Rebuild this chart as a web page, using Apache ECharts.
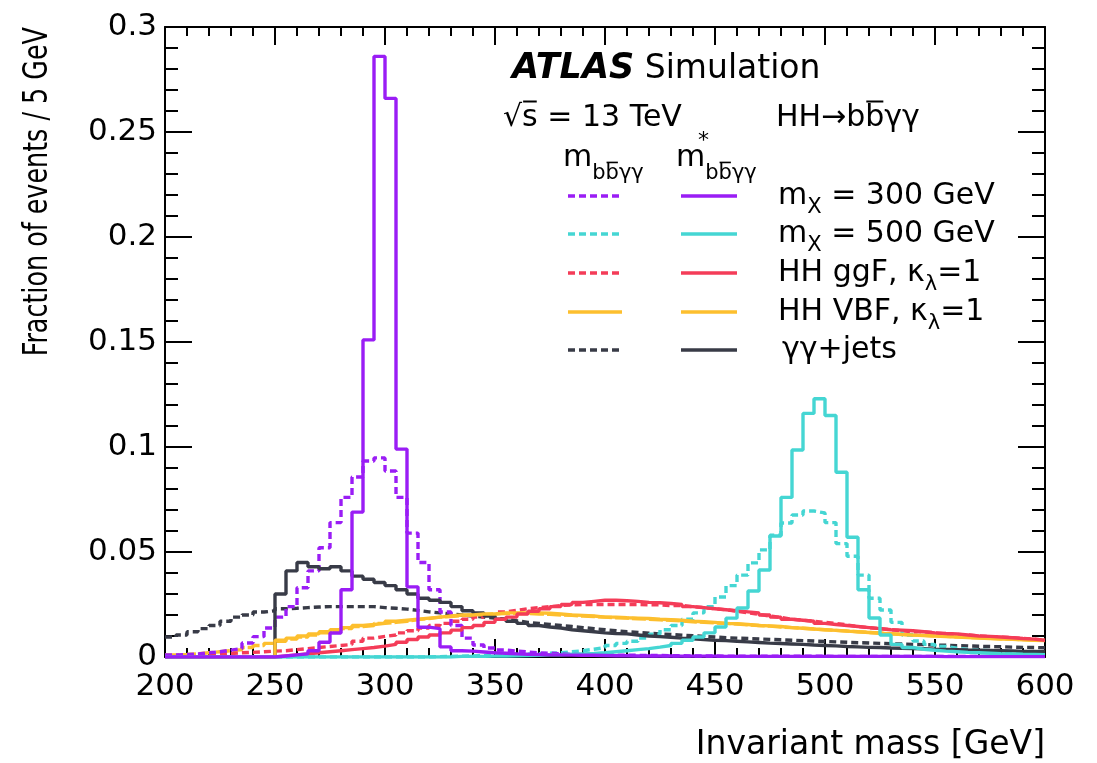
<!DOCTYPE html>
<html>
<head>
<meta charset="utf-8">
<script src="https://cdn.jsdelivr.net/npm/echarts/dist/echarts.min.js"></script>
<style>
html, body { margin: 0; padding: 0; background: #fff; }
#chart { width: 1097px; height: 763px; }
</style>
</head>
<body>
<div id="chart"></div>
<script>
// 5 GeV bins from 200 to 600 GeV, one value per bin (lower edge 200, 205, ... 595)
const binLow = 200
const binWidth = 5

// m_X = 300 GeV
const x300 = [
  0.001, 0.0012, 0.0015, 0.002, 0.0025, 0.0033, 0.004, 0.0067, 0.0097, 0.0138,
  0.019, 0.024, 0.033, 0.041, 0.052, 0.064, 0.076, 0.0857, 0.0933, 0.0948,
  0.0886, 0.076, 0.059, 0.045, 0.032, 0.0214, 0.015, 0.009, 0.0057, 0.0043,
  0.0033, 0.0028, 0.0024, 0.002, 0.0018, 0.0015, 0.0013, 0.0012, 0.001, 0.001,
  0.0009, 0.0008, 0.0008, 0.0007, 0.0007, 0.0006, 0.0006, 0.0005, 0.0005, 0.0005,
  0.0004, 0.0004, 0.0004, 0.0004, 0.0004, 0.0004, 0.0004, 0.0004, 0.0004, 0.0004,
  0.0003, 0.0003, 0.0003, 0.0003, 0.0003, 0.0003, 0.0003, 0.0003, 0.0003, 0.0003,
  0.0003, 0.0003, 0.0003, 0.0003, 0.0003, 0.0003, 0.0003, 0.0003, 0.0003, 0.0003
]
const x300Star = [
  0, 0, 0, 0, 0, 0, 0, 0, 0, 0,
  0.0005, 0.001, 0.0015, 0.003, 0.007, 0.0114, 0.032, 0.069, 0.151, 0.286,
  0.266, 0.099, 0.0334, 0.0142, 0.0135, 0.0048, 0.003, 0.0028, 0.0024, 0.002,
  0.0018, 0.0015, 0.0013, 0.0012, 0.001, 0.001, 0.0009, 0.0008, 0.0008, 0.0007,
  0.0006, 0.0006, 0.0005, 0.0005, 0.0005, 0.0005, 0.0004, 0.0004, 0.0004, 0.0004,
  0.0003, 0.0003, 0.0003, 0.0003, 0.0003, 0.0003, 0.0003, 0.0003, 0.0003, 0.0003,
  0.0003, 0.0003, 0.0003, 0.0003, 0.0003, 0.0003, 0.0003, 0.0003, 0.0003, 0.0003,
  0.0002, 0.0002, 0.0002, 0.0002, 0.0002, 0.0002, 0.0002, 0.0002, 0.0002, 0.0002
]

// m_X = 500 GeV
const x500 = [
  0, 0, 0, 0, 0, 0, 0, 0, 0, 0,
  0, 0, 0, 0, 0, 0, 0, 0, 0, 0,
  0, 0, 0, 0, 0.0002, 0.0003, 0.0004, 0.0005, 0.0006, 0.0008,
  0.001, 0.0012, 0.0014, 0.0016, 0.0018, 0.002, 0.0025, 0.003, 0.0037, 0.0045,
  0.0055, 0.0065, 0.0075, 0.009, 0.0108, 0.013, 0.015, 0.018, 0.021, 0.024,
  0.0286, 0.034, 0.039, 0.0448, 0.051, 0.058, 0.0638, 0.0676, 0.0695, 0.0686,
  0.064, 0.054, 0.048, 0.039, 0.028, 0.0224, 0.0165, 0.0105, 0.0076, 0.006,
  0.005, 0.0042, 0.0036, 0.0033, 0.003, 0.0027, 0.0025, 0.0023, 0.0021, 0.002
]
const x500Star = [
  0, 0, 0, 0, 0, 0, 0, 0, 0, 0,
  0, 0, 0, 0, 0, 0, 0, 0, 0, 0,
  0, 0, 0, 0, 0, 0, 0.0003, 0.0003, 0.0003, 0.0004,
  0.0005, 0.0006, 0.0007, 0.0008, 0.001, 0.0011, 0.0013, 0.0015, 0.0017, 0.002,
  0.0025, 0.003, 0.0035, 0.004, 0.0047, 0.0055, 0.0065, 0.008, 0.0095, 0.0115,
  0.0143, 0.0185, 0.0233, 0.0314, 0.0414, 0.0576, 0.076, 0.0986, 0.116, 0.123,
  0.115, 0.088, 0.057, 0.032, 0.0186, 0.0105, 0.006, 0.0045, 0.0037, 0.0032,
  0.0028, 0.0025, 0.0022, 0.002, 0.0018, 0.0016, 0.0015, 0.0013, 0.0012, 0.0011
]

// HH ggF, kappa_lambda = 1
const ggf = [
  0.0005, 0.0007, 0.001, 0.0012, 0.0015, 0.0017, 0.002, 0.0022, 0.0025, 0.0028,
  0.003, 0.0035, 0.004, 0.0045, 0.005, 0.0055, 0.006, 0.0075, 0.009, 0.0098,
  0.0105, 0.0115, 0.0125, 0.0138, 0.015, 0.016, 0.017, 0.018, 0.019, 0.02,
  0.0215, 0.0222, 0.023, 0.0235, 0.024, 0.0245, 0.0248, 0.025, 0.025, 0.025,
  0.025, 0.025, 0.025, 0.0248, 0.0248, 0.0245, 0.0245, 0.024, 0.0235, 0.023,
  0.0225, 0.0218, 0.021, 0.0203, 0.0195, 0.0188, 0.018, 0.0175, 0.017, 0.0165,
  0.016, 0.0153, 0.0145, 0.014, 0.0135, 0.013, 0.0125, 0.012, 0.012, 0.0115,
  0.011, 0.0107, 0.0105, 0.01, 0.0097, 0.0095, 0.0092, 0.0088, 0.0085, 0.008
]
const ggfStar = [
  0, 0, 0, 0, 0, 0, 0, 0, 0, 0,
  0.0005, 0.001, 0.0015, 0.002, 0.0025, 0.003, 0.0035, 0.004, 0.0045, 0.0052,
  0.006, 0.007, 0.0083, 0.0095, 0.0105, 0.0115, 0.0128, 0.014, 0.015, 0.0165,
  0.018, 0.019, 0.0205, 0.0218, 0.023, 0.024, 0.025, 0.026, 0.0265, 0.027,
  0.027, 0.0268, 0.0265, 0.026, 0.0258, 0.0255, 0.025, 0.024, 0.0235, 0.023,
  0.0225, 0.022, 0.0215, 0.021, 0.02, 0.019, 0.018, 0.0175, 0.017, 0.016,
  0.0155, 0.015, 0.0145, 0.014, 0.0135, 0.013, 0.0128, 0.0125, 0.012, 0.0115,
  0.0112, 0.011, 0.0105, 0.01, 0.0098, 0.0095, 0.0092, 0.0088, 0.0085, 0.008
]

// HH VBF, kappa_lambda = 1
const vbf = [
  0.001, 0.0012, 0.0015, 0.002, 0.0025, 0.003, 0.0035, 0.0045, 0.0055, 0.0065,
  0.0075, 0.0085, 0.0095, 0.0105, 0.0115, 0.0125, 0.0135, 0.0145, 0.015, 0.016,
  0.0165, 0.017, 0.0178, 0.0183, 0.019, 0.0193, 0.0197, 0.02, 0.0202, 0.0205,
  0.0207, 0.0207, 0.0207, 0.0205, 0.0203, 0.02, 0.0198, 0.0195, 0.0193, 0.019,
  0.0187, 0.0185, 0.0182, 0.018, 0.0177, 0.0175, 0.0172, 0.0168, 0.0165, 0.0162,
  0.016, 0.0157, 0.0153, 0.015, 0.0147, 0.0143, 0.014, 0.0137, 0.0133, 0.013,
  0.0127, 0.0124, 0.012, 0.0117, 0.0114, 0.0111, 0.0108, 0.0105, 0.0103, 0.01,
  0.0098, 0.0096, 0.0094, 0.0091, 0.0089, 0.0087, 0.0085, 0.0083, 0.0081, 0.0079
]
const vbfStar = [
  0, 0, 0, 0, 0, 0, 0, 0, 0, 0,
  0.008, 0.009, 0.01, 0.011, 0.012, 0.013, 0.014, 0.015, 0.0155, 0.016,
  0.017, 0.0175, 0.018, 0.0185, 0.019, 0.0195, 0.02, 0.02, 0.0205, 0.0205,
  0.021, 0.021, 0.021, 0.021, 0.0208, 0.0205, 0.02, 0.0198, 0.0195, 0.019,
  0.019, 0.0187, 0.0185, 0.0183, 0.018, 0.0178, 0.0175, 0.017, 0.0168, 0.0165,
  0.016, 0.0158, 0.0155, 0.015, 0.0148, 0.0145, 0.014, 0.0137, 0.0133, 0.013,
  0.0127, 0.0123, 0.012, 0.0117, 0.0113, 0.011, 0.0107, 0.0104, 0.0102, 0.01,
  0.0097, 0.0095, 0.0093, 0.009, 0.0088, 0.0086, 0.0084, 0.0082, 0.008, 0.0078
]

// gamma gamma + jets
const jets = [
  0.0095, 0.0105, 0.012, 0.0135, 0.015, 0.017, 0.019, 0.02, 0.0214, 0.022,
  0.023, 0.0232, 0.0235, 0.0238, 0.024, 0.024, 0.024, 0.024, 0.024, 0.0235,
  0.0232, 0.0228, 0.0222, 0.0215, 0.021, 0.0205, 0.02, 0.0195, 0.019, 0.0185,
  0.018, 0.0172, 0.0165, 0.016, 0.0155, 0.015, 0.0145, 0.014, 0.0135, 0.013,
  0.0125, 0.012, 0.0117, 0.0113, 0.011, 0.0107, 0.0104, 0.0101, 0.0098, 0.0095,
  0.0092, 0.009, 0.0088, 0.0086, 0.0084, 0.0082, 0.008, 0.0078, 0.0076, 0.0074,
  0.0072, 0.007, 0.0068, 0.0067, 0.0065, 0.0063, 0.0062, 0.006, 0.0059, 0.0057,
  0.0056, 0.0054, 0.0053, 0.0051, 0.005, 0.0049, 0.0047, 0.0046, 0.0045, 0.0044
]
const jetsStar = [
  0, 0, 0, 0, 0, 0, 0, 0, 0, 0,
  0.03, 0.041, 0.045, 0.043, 0.042, 0.043, 0.041, 0.0385, 0.037, 0.0355,
  0.034, 0.032, 0.03, 0.028, 0.027, 0.026, 0.024, 0.022, 0.021, 0.0195,
  0.018, 0.017, 0.016, 0.015, 0.0143, 0.0138, 0.013, 0.0125, 0.012, 0.0115,
  0.0112, 0.011, 0.0105, 0.01, 0.0097, 0.0094, 0.009, 0.0087, 0.0083, 0.008,
  0.0078, 0.0075, 0.0072, 0.0069, 0.0066, 0.0064, 0.0062, 0.006, 0.0057, 0.0055,
  0.0053, 0.005, 0.0048, 0.0046, 0.0045, 0.0043, 0.0042, 0.004, 0.0039, 0.0037,
  0.0036, 0.0035, 0.0033, 0.0032, 0.0031, 0.003, 0.0029, 0.0027, 0.0026, 0.0025
]

const xTicks = { min: 200, max: 600, step: 50 }
const yTicks = { min: 0, max: 0.3, step: 0.05 }

const FONT = '"DejaVu Sans"'
const LW = 3.4

const samples = [
  { color: '#9a1df5', reco: x300, star: x300Star, dash: [7, 4], keyDash: [7, 4] },
  { color: '#45d6d3', reco: x500, star: x500Star, dash: [7, 4], keyDash: [7, 4] },
  { color: '#f43c58', reco: ggf, star: ggfStar, dash: [7, 4], keyDash: [7, 4] },
  { color: '#fdbf2e', reco: vbf, star: vbfStar, dash: [14, 3], keyDash: null },
  { color: '#383b47', reco: jets, star: jetsStar, dash: [7, 4], keyDash: [7, 4] }
]

// histogram as step line: lower edges + closing upper edge
function hist(values) {
  let pts = values.map((v, i) => [binLow + i * binWidth, v])
  pts.push([binLow + values.length * binWidth, values[values.length - 1]])
  return pts
}

let series = []
samples.slice().reverse().forEach(s => {
  series.push({
    type: 'line', step: 'end', symbol: 'none', silent: true, z: 2,
    data: hist(s.reco),
    lineStyle: { color: s.color, width: LW, type: s.dash }
  })
})
samples.slice().reverse().forEach(s => {
  series.push({
    type: 'line', step: 'end', symbol: 'none', silent: true, z: 3,
    data: hist(s.star),
    lineStyle: { color: s.color, width: LW, type: 'solid' }
  })
})

// ---- text helpers for the legend block ----
const ctx = document.createElement('canvas').getContext('2d')
function fontStr(p) {
  return (p.italic ? 'italic ' : '') + (p.bold ? 'bold ' : '') + p.size + 'px ' + FONT
}
function textRun(x, y, parts) {
  let els = []
  let cx = x
  parts.forEach(p => {
    const f = fontStr(p)
    ctx.font = f
    const w = ctx.measureText(p.t).width
    const py = y + (p.dy || 0)
    els.push({
      type: 'text', x: cx, y: py, silent: true,
      style: { text: p.t, font: f, fill: '#000', textAlign: 'left', textVerticalAlign: 'middle' }
    })
    if (p.bar) {
      const by = py - 0.55 * p.size
      els.push({
        type: 'line', silent: true,
        shape: { x1: cx + 1, y1: by, x2: cx + w - 1, y2: by },
        style: { stroke: '#000', lineWidth: p.size > 25 ? 2 : 1.6 }
      })
    }
    cx += w
  })
  return els
}

let graphics = []
graphics = graphics.concat(textRun(512, 69, [
  { t: 'ATLAS', size: 35, bold: true, italic: true },
  { t: ' Simulation', size: 33 }
]))
graphics = graphics.concat(textRun(503, 118, [
  { t: '\u221a', size: 30 }, { t: 's', size: 30, bar: true }, { t: ' = 13 TeV', size: 30 }
]))
graphics = graphics.concat(textRun(776, 118, [
  { t: 'HH\u2192b', size: 30 }, { t: 'b', size: 30, bar: true }, { t: '\u03b3\u03b3', size: 30 }
]))
// column headers
const sub = [{ t: 'b', size: 21, dy: 16 }, { t: 'b', size: 21, dy: 16, bar: true }, { t: '\u03b3\u03b3', size: 21, dy: 16 }]
graphics = graphics.concat(textRun(563, 158, [{ t: 'm', size: 30 }].concat(sub)))
graphics = graphics.concat(textRun(676, 158, [{ t: 'm', size: 30 }].concat(sub)))
graphics = graphics.concat(textRun(698, 141, [{ t: '*', size: 22 }]))

const rowY = [196, 234, 273, 312, 350]
const rowText = [
  [{ t: 'm', size: 30 }, { t: 'X', size: 21, dy: 12 }, { t: ' = 300 GeV', size: 30 }],
  [{ t: 'm', size: 30 }, { t: 'X', size: 21, dy: 12 }, { t: ' = 500 GeV', size: 30 }],
  [{ t: 'HH ggF, \u03ba', size: 30 }, { t: '\u03bb', size: 21, dy: 12 }, { t: '=1', size: 30 }],
  [{ t: 'HH VBF, \u03ba', size: 30 }, { t: '\u03bb', size: 21, dy: 12 }, { t: '=1', size: 30 }],
  [{ t: '\u03b3\u03b3+jets', size: 30 }]
]
samples.forEach((s, i) => {
  const y = rowY[i]
  graphics.push({
    type: 'line', silent: true, shape: { x1: 568, y1: y, x2: 622, y2: y },
    style: { stroke: s.color, lineWidth: LW, lineDash: s.keyDash }
  })
  graphics.push({
    type: 'line', silent: true, shape: { x1: 681, y1: y, x2: 737, y2: y },
    style: { stroke: s.color, lineWidth: LW }
  })
  graphics = graphics.concat(textRun(i === 4 ? 782 : 778, y, rowText[i]))
})

// axis titles
graphics.push({
  type: 'text', x: 1045, y: 745, silent: true,
  style: { text: 'Invariant mass [GeV]', font: '33px ' + FONT, fill: '#000', textAlign: 'right', textVerticalAlign: 'middle' }
})
graphics.push({
  type: 'text', x: 38, y: 27, rotation: Math.PI / 2, scaleX: 0.77, silent: true,
  style: { text: 'Fraction of events / 5 GeV', font: '33px ' + FONT, fill: '#000', textAlign: 'right', textVerticalAlign: 'middle' }
})

function xAxisDef(pos, labels) {
  return {
    type: 'value', position: pos, min: xTicks.min, max: xTicks.max, interval: xTicks.step,
    axisLine: { show: true, onZero: false, lineStyle: { color: '#000', width: 2 } },
    axisTick: { show: true, inside: true, length: 18, lineStyle: { color: '#000', width: 2 } },
    minorTick: { show: true, splitNumber: 5, length: 9, lineStyle: { color: '#000', width: 2 } },
    axisLabel: { show: labels, color: '#000', fontSize: 31, fontFamily: 'DejaVu Sans', margin: 14 },
    splitLine: { show: false }
  }
}
function yAxisDef(pos, labels) {
  return {
    type: 'value', position: pos, min: yTicks.min, max: yTicks.max, interval: yTicks.step,
    axisLine: { show: true, onZero: false, lineStyle: { color: '#000', width: 2 } },
    axisTick: { show: true, inside: true, length: 27, lineStyle: { color: '#000', width: 2 } },
    minorTick: { show: true, splitNumber: 5, length: 13, lineStyle: { color: '#000', width: 2 } },
    axisLabel: {
      show: labels, color: '#000', fontSize: 31, fontFamily: 'DejaVu Sans', margin: 8,
      formatter: v => String(parseFloat(v.toFixed(2)))
    },
    splitLine: { show: false }
  }
}

const option = {
  animation: false,
  backgroundColor: '#fff',
  grid: { left: 165, top: 27, width: 880, height: 630, containLabel: false },
  xAxis: [xAxisDef('bottom', true), xAxisDef('top', false)],
  yAxis: [yAxisDef('left', true), yAxisDef('right', false)],
  series: series,
  graphic: graphics
}

const myChart = echarts.init(document.getElementById('chart'))
myChart.setOption(option)
</script>
</body>
</html>
